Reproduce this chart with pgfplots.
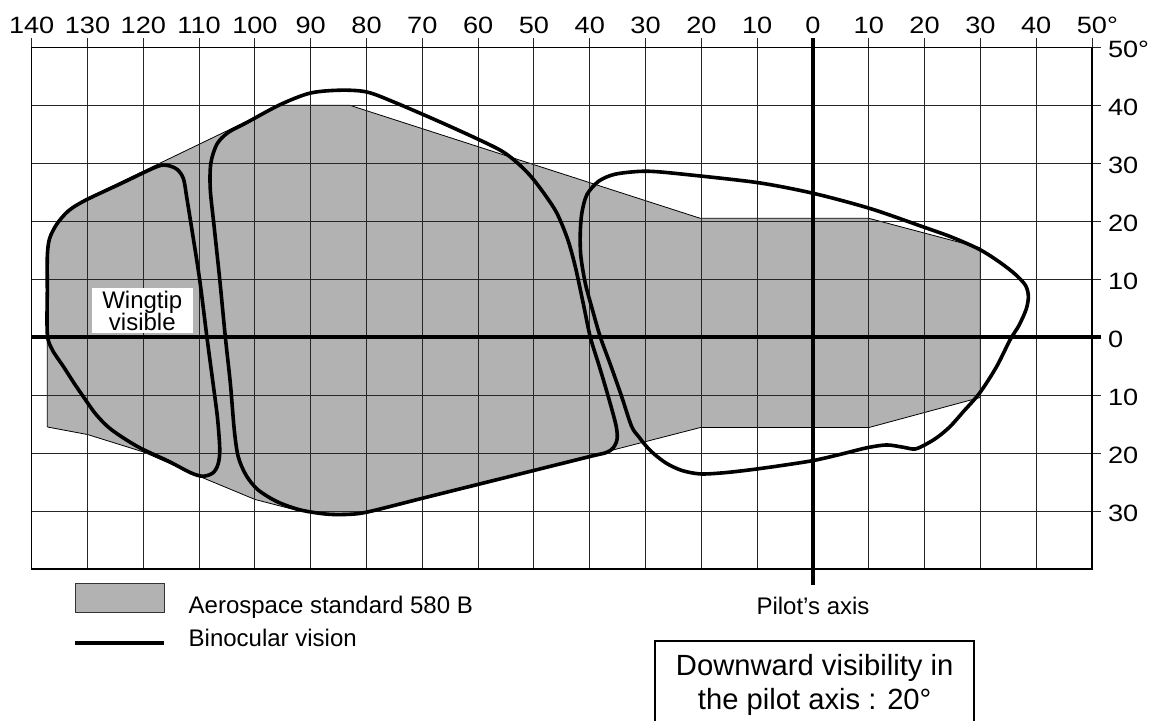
\documentclass[border=0pt]{standalone}
\usepackage{fontspec}
\setmainfont{Liberation Sans}
\newfontfamily\tickfont[FakeStretch=1.15]{Liberation Sans}
\usepackage{pgfplots}
\pgfplotsset{compat=1.18}
\begin{document}
\begin{tikzpicture}
\begin{axis}[
  at={(15.85pt,-284.5pt)}, anchor=south west,
  scale only axis, width=530.15pt, height=260.85pt,
  xmin=-140, xmax=50, ymin=-40, ymax=50,
  xtick={-140,-130,...,50},
  xticklabels={140,130,120,110,100,90,80,70,60,50,40,30,20,10,0,10,20,30,40,50\rlap{°}},
  ytick={-30,-20,...,50},
  yticklabels={30,20,10,0,10,20,30,40,50°},
  xtick pos=right, xticklabel pos=right,
  ytick pos=right, yticklabel pos=right,
  tick align=outside, major tick length=4.5pt,
  tick style={black!85, line width=0.5pt},
  grid=major, grid style={black!85, line width=0.5pt},
  axis line style={black, line width=0.6pt},
  every tick label/.append style={font={\fontsize{11.8}{14}\tickfont}},
  xticklabel style={anchor=base, yshift=2.5pt},
  yticklabel style={anchor=west, yshift=-1.2pt},
  clip=false, set layers,
]
% Aerospace standard 580 B envelope
\addplot[fill=black!30, draw=black, line width=0.4pt, on layer=axis background] coordinates {
(-137.2,-15.5) (-130,-16.8) (-120,-19.8) (-110,-24) (-100,-28) (-92,-30) (-85,-30.6) (-80,-30.4)
(-20.2,-15.6) (10,-15.6) (30,-10.4) (30,15.4) (10,20.5) (-20.2,20.5) (-83,40) (-95.5,40)
(-130.4,23.8) (-133.4,21.8) (-135.5,19.5) (-136.8,17) (-137.2,14) (-137.2,-15.5)};

% Binocular vision: left lobe
\addplot[black, line width=1.8pt, smooth, tension=0.5, line join=round, line cap=round] coordinates {
(-137.2,8) (-137.2,0.5) (-136.3,-2.2) (-134.3,-5.1) (-132.5,-7.8) (-130.8,-10.2) (-128.5,-13.3)
(-125.8,-15.9) (-121,-18.9) (-115.5,-21.4) (-111.5,-23.4) (-109.3,-24.0) (-107.5,-23.4)
(-106.6,-21.9) (-106.3,-19.4) (-106.7,-14) (-107.5,-8) (-108.6,0) (-109.9,9.9) (-111.2,18)
(-112.2,24) (-112.8,27.3) (-113.9,28.9) (-115.6,29.6) (-117.6,29.4) (-124,26.5) (-130.4,23.6)
(-133.4,21.8) (-135.5,19.5) (-136.8,17) (-137.2,14) (-137.2,8)};

% Binocular vision: middle lobe
\addplot[black, line width=1.8pt, smooth, tension=0.5, line join=round, line cap=round] coordinates {
(-60,-25.4) (-70,-27.8) (-80,-30.2) (-84,-30.6) (-87.5,-30.5) (-91.9,-29.8) (-96,-28.4)
(-99.5,-26.3) (-101.6,-23.8) (-103,-20.6) (-103.7,-16) (-104.4,-8) (-105.3,0) (-106.3,9.9)
(-107.3,19) (-108,25.5) (-107.9,30) (-106.8,33.3) (-104.8,35.3) (-101.5,37) (-95.5,40.1)
(-90.1,42.1) (-84.7,42.6) (-80,42.3) (-75.2,40.6) (-65.6,36.6) (-56.7,32.6) (-53.5,30.5)
(-50.7,27.9) (-48.2,24.8) (-45.9,21.4) (-44,17) (-42.6,12.2) (-41.1,5.5) (-39.9,0)
(-38.3,-5) (-36.7,-10.2) (-35.3,-15.2) (-35.1,-17.6) (-35.8,-19.1) (-37,-19.9) (-40,-20.6)
(-50,-23.0) (-60,-25.4)};

% Binocular vision: right lobe
\addplot[black, line width=1.8pt, smooth, tension=0.5, line join=round, line cap=round] coordinates {
(-20.2,27.8) (-9.5,26.6) (0.1,24.8) (10.2,22.2) (19.8,19.0) (25,17.2) (29.9,15.1) (33.5,12.9)
(36.3,10.8) (38.1,8.9) (38.6,7) (38.2,4.8) (36.9,2) (35.3,-0.5) (32.9,-5.1) (29.9,-9.6)
(27,-12.8) (24.6,-15.4) (22.4,-17.2) (20.4,-18.4) (18.3,-19.3) (16.2,-19.0) (13.2,-18.6)
(9.6,-19.1) (5,-20.2) (0,-21.3) (-6,-22.2) (-11.3,-22.9) (-16,-23.4) (-20.2,-23.6)
(-23.5,-23) (-26.2,-21.8) (-28.3,-20.3) (-29.8,-18.9) (-31.2,-17.2) (-32.5,-15.4)
(-34.3,-10.2) (-36.2,-5) (-38.1,0) (-39.6,5) (-40.8,9.3) (-41.6,14) (-41.7,18) (-41.4,21.5)
(-40.5,24.6) (-38.4,26.9) (-35.5,28.1) (-31,28.6) (-27.4,28.5) (-20.2,27.8)};

% thick reference lines
\draw[black, line width=1.7pt] (axis cs:-140,0) -- ([xshift=4.5pt]axis cs:50,0);
\draw[black, line width=2pt] ([yshift=4.5pt]axis cs:0,50) -- ([yshift=-8pt]axis cs:0,-40);

% Wingtip label
\fill[white] (axis cs:-129.19,0.77) rectangle (axis cs:-111.15,8.48);
\node[anchor=base, inner sep=0, font=\fontsize{12}{14}\selectfont] at (axis cs:-120.18,4.97) {Wingtip};
\node[anchor=base, inner sep=0, font=\fontsize{12}{14}\selectfont] at (axis cs:-120.18,1.23) {visible};
\end{axis}

\begin{scope}[x=0.5pt, y=-0.5pt]
  \filldraw[fill=black!30, draw=black!80, line width=0.5pt] (75,584) rectangle (164,612.7);
  \draw[black, line width=1.8pt] (75,643.3) -- (164,643.3);
  \node[anchor=base west, inner sep=0, font=\fontsize{12}{14}\selectfont] at (188.3,613.3) {Aerospace standard 580 B};
  \node[anchor=base west, inner sep=0, font=\fontsize{12}{14}\selectfont] at (188.3,646.7) {Binocular vision};
  \node[anchor=base, inner sep=0, font=\fontsize{12}{14}\selectfont] at (813,615) {Pilot’s axis};
  \draw[black, line width=1pt] (655,641) rectangle (974.3,790);
  \node[anchor=base, inner sep=0, font=\fontsize{14.6}{17}\selectfont] at (814.7,676) {Downward visibility in};
  \node[anchor=base, inner sep=0, font=\fontsize{14.6}{17}\selectfont] at (814.7,710) {the pilot axis : 20°};
\end{scope}
\pgfresetboundingbox
\path (0pt,0pt) rectangle (576.5pt,-360.5pt);
\end{tikzpicture}
\end{document}
